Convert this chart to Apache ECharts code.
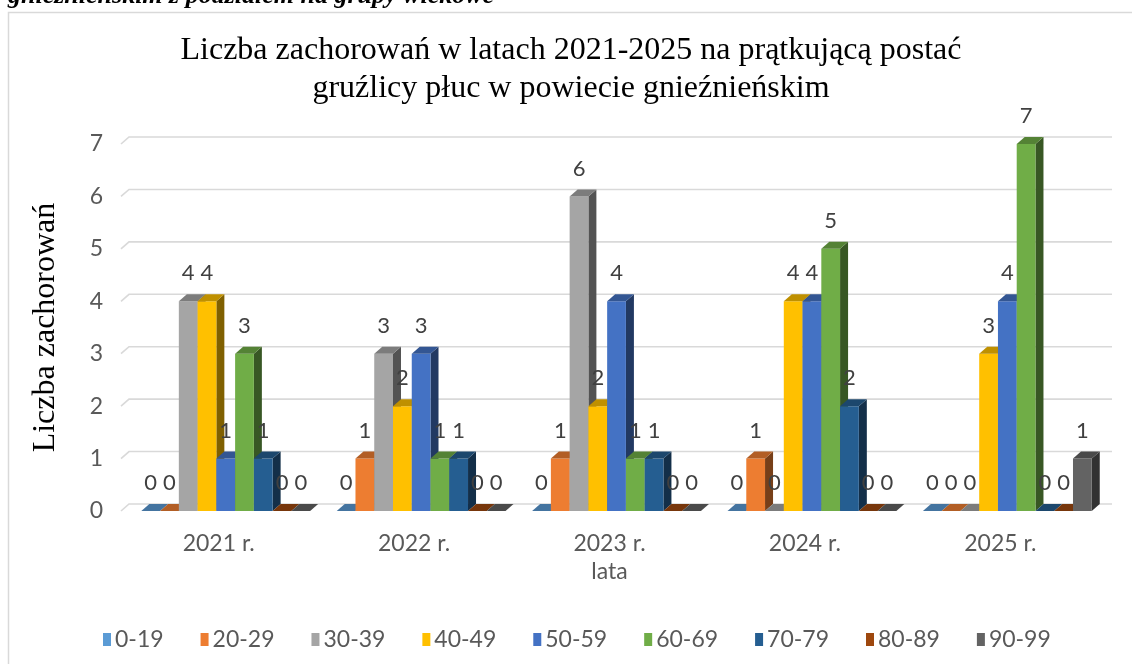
<!DOCTYPE html>
<html>
<head>
<meta charset="utf-8">
<script src="https://cdn.jsdelivr.net/npm/echarts@6/dist/echarts.min.js"></script>
<style>html,body{margin:0;padding:0;background:#fff;}#c{width:1132px;height:664px;}</style>
</head>
<body>
<div id="c"></div>
<script>
const categories = ['2021 r.', '2022 r.', '2023 r.', '2024 r.', '2025 r.'];
const seriesNames = ['0-19', '20-29', '30-39', '40-49', '50-59', '60-69', '70-79', '80-89', '90-99'];
const v0_19  = [0, 0, 0, 0, 0];
const v20_29 = [0, 1, 1, 1, 0];
const v30_39 = [4, 3, 6, 0, 0];
const v40_49 = [4, 2, 2, 4, 3];
const v50_59 = [1, 3, 4, 4, 4];
const v60_69 = [3, 1, 1, 5, 7];
const v70_79 = [1, 1, 1, 2, 0];
const v80_89 = [0, 0, 0, 0, 0];
const v90_99 = [0, 0, 0, 0, 1];
const seriesValues = [v0_19, v20_29, v30_39, v40_49, v50_59, v60_69, v70_79, v80_89, v90_99];
const yTicks = [0, 1, 2, 3, 4, 5, 6, 7];
const colors = ['#5B9BD5', '#ED7D31', '#A5A5A5', '#FFC000', '#4472C4', '#70AD47', '#255E91', '#9E480E', '#636363'];

const SERIF = "'Liberation Serif', 'Times New Roman', Times, serif";
const SANS = "Lato, Carlito, sans-serif";

function shade(hex, f) {
  const n = parseInt(hex.slice(1), 16);
  const r = Math.round(((n >> 16) & 255) * f), g = Math.round(((n >> 8) & 255) * f), b = Math.round((n & 255) * f);
  return 'rgb(' + r + ',' + g + ',' + b + ')';
}
const DX = 8, DY = 7;

function makeBarRenderer(s) {
  return function (params, api) {
    const i = api.value(0), v = api.value(1);
    const base = api.coord([i, 0]);
    const top = api.coord([i, v]);
    const band = api.size([1, 0])[0];
    const bw = band * 0.096;
    const x0 = base[0] + band * 0.036 - 4.5 * bw + s * bw;
    const y0 = base[1], y1 = top[1];
    const c = colors[s];
    return {
      type: 'group',
      children: [
        { type: 'polygon', shape: { points: [[x0 + bw, y1], [x0 + bw + DX, y1 - DY], [x0 + bw + DX, y0 - DY], [x0 + bw, y0]] },
          style: { fill: shade(c, 0.5) } },
        { type: 'rect', shape: { x: x0, y: y1, width: bw, height: y0 - y1 }, style: { fill: c } },
        { type: 'polygon', shape: { points: [[x0, y1], [x0 + DX, y1 - DY], [x0 + bw + DX, y1 - DY], [x0 + bw, y1]] },
          style: { fill: shade(c, 0.75) } },
        { type: 'text', z2: 100, style: { text: String(v), x: x0 + bw / 2, y: y1 - 28, align: 'center', verticalAlign: 'middle',
          fontFamily: SANS, fontSize: 22, fill: '#404040' } }
      ]
    };
  };
}

const series = seriesNames.map(function (name, s) {
  return {
    type: 'custom', name: name, z: 2,
    itemStyle: { color: colors[s] },
    renderItem: makeBarRenderer(s),
    encode: { x: 0, y: 1 },
    data: seriesValues[s].map(function (v, i) { return [i, v]; })
  };
});

series.unshift({
  type: 'custom', name: 'wall', z: 1, silent: true,
  renderItem: function (params, api) {
    const cs = params.coordSys;
    const y = api.coord([0, api.value(1)])[1];
    return { type: 'polyline', shape: { points: [[cs.x, y], [cs.x + DX, y - DY], [cs.x + cs.width + 14, y - DY]] },
      style: { stroke: '#d9d9d9', lineWidth: 1.6, fill: null } };
  },
  encode: { x: 0, y: 1 },
  data: yTicks.map(function (t) { return [0, t]; })
});

const chart = echarts.init(document.getElementById('c'), null, { renderer: 'canvas' });
chart.setOption({
  animation: false,
  backgroundColor: '#fff',
  grid: { left: 121, right: 34, top: 144, bottom: 153, containLabel: false },
  xAxis: {
    type: 'category', data: categories,
    name: 'lata', nameLocation: 'middle', nameGap: 48,
    nameTextStyle: { fontFamily: SANS, fontSize: 23, color: '#595959' },
    axisLine: { show: false }, axisTick: { show: false },
    axisLabel: { margin: 21, fontFamily: SANS, fontSize: 23, color: '#595959' }
  },
  yAxis: {
    type: 'value', min: 0, max: 7, interval: 1,
    name: 'Liczba zachorowań', nameLocation: 'middle', nameGap: 59, nameRotate: 90,
    nameTextStyle: { fontFamily: SERIF, fontSize: 32, color: '#000' },
    axisLine: { show: false }, axisTick: { show: false }, splitLine: { show: false },
    axisLabel: { margin: 18, fontFamily: SANS, fontSize: 23, color: '#595959' }
  },
  legend: {
    data: seriesNames, left: 98, top: 623, icon: 'rect', itemWidth: 8, itemHeight: 13, itemGap: 37,
    textStyle: { fontFamily: SANS, fontSize: 23, color: '#595959', padding: [0, 0, 0, -1] }
  },
  graphic: [
    { type: 'rect', silent: true, shape: { x: 8.5, y: 12.5, width: 1130, height: 660 },
      style: { fill: null, stroke: '#d9d9d9', lineWidth: 1.5 } },
    { type: 'text', silent: true, style: { text: 'gnieźnieńskim z podziałem na grupy wiekowe', x: 8, y: 9,
      verticalAlign: 'bottom', fontStyle: 'italic', fontWeight: 'bold', fontSize: 26, fontFamily: SERIF, fill: '#000' } },
    { type: 'text', silent: true, style: { text: 'Liczba zachorowań w latach 2021-2025 na prątkującą postać\ngruźlicy płuc w powiecie gnieźnieńskim',
      x: 571, y: 32, align: 'center', verticalAlign: 'top', lineHeight: 38, fontSize: 32, fontFamily: SERIF, fill: '#000' } }
  ],
  series: series
});
</script>
</body>
</html>
